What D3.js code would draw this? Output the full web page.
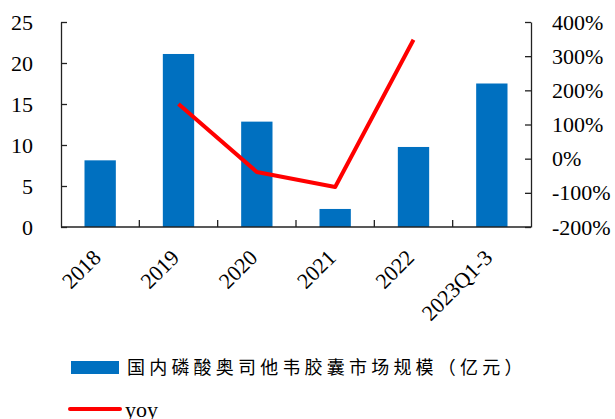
<!DOCTYPE html>
<html>
<head>
<meta charset="utf-8">
<script src="https://cdn.jsdelivr.net/npm/d3@7/dist/d3.min.js"></script>
<style>
  html, body { margin: 0; padding: 0; background: #fff; }
  svg { display: block; }
</style>
</head>
<body>
<svg id="chart" width="615" height="419"></svg>
<script>
// Market size (亿元) and year-over-year growth
const categories = ["2018", "2019", "2020", "2021", "2022", "2023Q1-3"];
const marketSize = [8.13, 21.1, 12.85, 2.2, 9.76, 17.5];
const yoy = [null, 1.60, -0.39, -0.83, 3.48, null];
const leftTicks = [0, 5, 10, 15, 20, 25];
const rightTicks = [-2, -1, 0, 1, 2, 3, 4];
const barLabel = "国内磷酸奥司他韦胶囊市场规模（亿元）";
const lineLabel = "yoy";

const svg = d3.select("#chart");
const plotLeft = 61, plotRight = 531, plotTop = 22, plotBottom = 227;
const serif = "'Liberation Serif', 'Times New Roman', serif";
const axisColor = "#222";

const x = d3.scaleBand().domain(categories).range([plotLeft, plotRight]).paddingInner(0).paddingOuter(0);
const yL = d3.scaleLinear().domain([0, 25]).range([plotBottom, plotTop]);
const yR = d3.scaleLinear().domain([-2, 4]).range([plotBottom, plotTop]);
const barW = x.bandwidth() * 0.4;

// bars
svg.append("g").selectAll("rect").data(categories).join("rect")
  .attr("x", d => x(d) + (x.bandwidth() - barW) / 2)
  .attr("y", (d, i) => yL(marketSize[i]))
  .attr("width", barW)
  .attr("height", (d, i) => yL(0) - yL(marketSize[i]))
  .attr("fill", "#0070C0");

// growth line
const pts = categories.map((c, i) => ({ c, v: yoy[i] })).filter(p => p.v !== null);
svg.append("path")
  .datum(pts)
  .attr("fill", "none")
  .attr("stroke", "#FF0000")
  .attr("stroke-width", 4)
  .attr("stroke-linejoin", "round")
  .attr("d", d3.line().x(p => x(p.c) + x.bandwidth() / 2).y(p => yR(p.v)));

// left axis
const gL = svg.append("g").attr("transform", `translate(${plotLeft},0)`)
  .call(d3.axisLeft(yL).tickValues(leftTicks).tickSizeInner(-6).tickSizeOuter(0).tickPadding(28));

// right axis
const gR = svg.append("g").attr("transform", `translate(${plotRight},0)`)
  .call(d3.axisRight(yR).tickValues(rightTicks).tickSizeInner(-6).tickSizeOuter(0).tickPadding(21)
    .tickFormat(d => Math.round(d * 100) + "%"));

// bottom axis: ticks at category boundaries, labels rotated 45°
const gB = svg.append("g").attr("transform", `translate(0,${plotBottom})`);
gB.append("line").attr("x1", plotLeft).attr("x2", plotRight).attr("y1", 0).attr("y2", 0);
gB.selectAll("line.tk").data(categories.slice(1)).join("line").attr("class", "tk")
  .attr("x1", d => x(d)).attr("x2", d => x(d)).attr("y1", 0).attr("y2", -7);
gB.selectAll("text").data(categories).join("text")
  .attr("transform", d => `translate(${x(d) + x.bandwidth() / 2 + 2},${32}) rotate(-45)`)
  .attr("text-anchor", "end")
  .text(d => d);

[gL, gR, gB].forEach(g => {
  g.selectAll("path, line").attr("stroke", axisColor).attr("stroke-width", 1.3);
  g.selectAll("text").attr("font-family", serif).attr("font-size", 22).attr("fill", "#000");
});

// legend
const lg = svg.append("g");
lg.append("rect").attr("x", 71).attr("y", 361).attr("width", 48).attr("height", 13).attr("fill", "#0070C0");
lg.append("text").attr("x", 127).attr("y", 368).attr("dy", "0.35em")
  .attr("font-family", "'Noto Sans CJK SC', sans-serif").attr("font-size", 18)
  .attr("letter-spacing", 4.2).attr("fill", "#000").text(barLabel);
lg.append("line").attr("x1", 70).attr("x2", 120).attr("y1", 409).attr("y2", 409)
  .attr("stroke", "#FF0000").attr("stroke-width", 4).attr("stroke-linecap", "round");
lg.append("text").attr("x", 125).attr("y", 417)
  .attr("font-family", serif).attr("font-size", 22).attr("fill", "#000").text(lineLabel);
</script>
</body>
</html>
